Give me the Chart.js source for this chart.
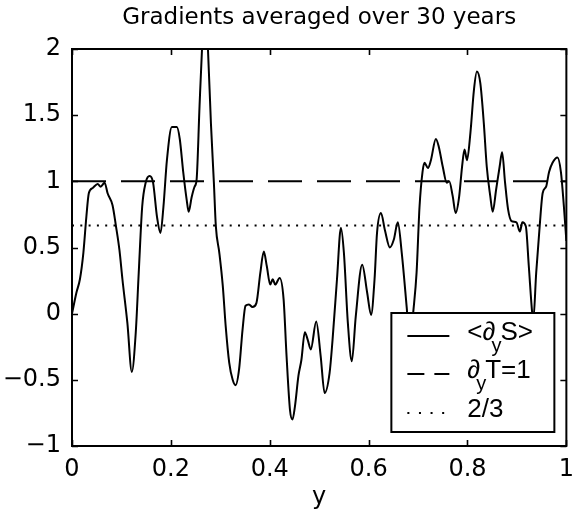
<!DOCTYPE html>
<html>
<head>
<meta charset="utf-8">
<script src="https://cdn.jsdelivr.net/npm/chart.js@4.4.0/dist/chart.umd.min.js"></script>
<style>
  html, body { margin: 0; padding: 0; background: #fff; }
  #wrap { width: 583px; height: 520px; }
</style>
</head>
<body>
<div id="wrap"><canvas id="c" width="583" height="520"></canvas></div>
<script>
// Position across the basin (non-dimensional y)
const yPos = [
  0.000, 0.009, 0.016, 0.023, 0.029, 0.034, 0.042, 0.052, 0.058, 0.066,
  0.072, 0.082, 0.089, 0.096, 0.102, 0.112, 0.121, 0.129, 0.135, 0.142,
  0.149, 0.157, 0.164, 0.172, 0.179, 0.185, 0.192, 0.202, 0.212, 0.218,
  0.225, 0.232, 0.236, 0.242, 0.248, 0.252, 0.258, 0.263, 0.269, 0.275,
  0.281, 0.287, 0.291, 0.298, 0.305, 0.311, 0.318, 0.325, 0.331, 0.338,
  0.345, 0.351, 0.358, 0.365, 0.373, 0.381, 0.388, 0.394, 0.401, 0.406,
  0.411, 0.420, 0.428, 0.434, 0.441, 0.446, 0.451, 0.458, 0.464, 0.471,
  0.477, 0.483, 0.494, 0.503, 0.511, 0.521, 0.527, 0.536, 0.544, 0.550,
  0.558, 0.566, 0.574, 0.587, 0.597, 0.605, 0.612, 0.617, 0.625, 0.633,
  0.643, 0.651, 0.659, 0.667, 0.677, 0.684, 0.690, 0.697, 0.703, 0.709,
  0.713, 0.720, 0.726, 0.736, 0.742, 0.750, 0.758, 0.763, 0.770, 0.776,
  0.783, 0.789, 0.794, 0.799, 0.806, 0.813, 0.819, 0.826, 0.833, 0.839,
  0.846, 0.851, 0.858, 0.865, 0.870, 0.876, 0.882, 0.889, 0.899, 0.906,
  0.911, 0.918, 0.924, 0.931, 0.933, 0.939, 0.946, 0.952, 0.959, 0.965,
  0.972, 0.982, 0.989, 0.995, 1.000
];

// Salinity gradient <d_y S>, averaged over 30 years
const meanSGrad = [
  0.00, 0.16, 0.26, 0.46, 0.73, 0.91, 0.95, 0.98, 0.96, 0.99,
  0.91, 0.82, 0.66, 0.48, 0.26, -0.07, -0.44, -0.14, 0.31, 0.81,
  0.99, 1.04, 0.99, 0.73, 0.61, 0.81, 1.16, 1.41, 1.41, 1.32,
  1.07, 0.86, 0.77, 0.88, 0.96, 1.01, 1.57, 2.00, 2.35, 2.00,
  1.44, 0.99, 0.66, 0.46, 0.21, -0.10, -0.37, -0.50, -0.54, -0.42,
  -0.12, 0.06, 0.07, 0.05, 0.08, 0.31, 0.47, 0.36, 0.22, 0.26,
  0.22, 0.27, 0.11, -0.32, -0.73, -0.80, -0.70, -0.47, -0.35, -0.14,
  -0.20, -0.27, -0.06, -0.32, -0.60, -0.45, -0.20, 0.26, 0.65, 0.46,
  -0.07, -0.36, -0.02, 0.37, 0.16, -0.01, 0.26, 0.61, 0.76, 0.63,
  0.50, 0.56, 0.69, 0.46, 0.05, -0.25, 0.00, 0.31, 0.81, 1.07,
  1.14, 1.10, 1.16, 1.32, 1.26, 1.11, 0.99, 1.00, 0.89, 0.76,
  0.88, 1.11, 1.24, 1.16, 1.37, 1.69, 1.83, 1.74, 1.44, 1.11,
  0.89, 0.77, 0.94, 1.11, 1.22, 0.99, 0.79, 0.70, 0.69, 0.62,
  0.69, 0.66, 0.36, 0.00, -0.05, 0.31, 0.66, 0.91, 0.96, 1.07,
  1.14, 1.18, 1.07, 0.81, 0.55
];

// Reference levels
const tempGradLevel = 1;
const twoThirdsLevel = 2 / 3;

// Axis ticks
const xTickValues = [0, 0.2, 0.4, 0.6, 0.8, 1];
const xTickLabels = ['0', '0.2', '0.4', '0.6', '0.8', '1'];
const yTickValues = [-1, -0.5, 0, 0.5, 1, 1.5, 2];
const yTickLabels = ['\u22121', '\u22120.5', '0', '0.5', '1', '1.5', '2'];

// Legend entries as text runs (sub = subscript)
const legendEntries = [
  [{ t: '<\u2202' }, { t: 'y', sub: true }, { t: 'S>' }],
  [{ t: '\u2202' }, { t: 'y', sub: true }, { t: 'T=1' }],
  [{ t: '2/3' }]
];

const FONT = 'DejaVu Sans';
const BLACK = '#000';

const frameAndTicks = {
  id: 'frameAndTicks',
  afterDatasetsDraw(chart) {
    const { ctx, chartArea: a, scales: { x, y } } = chart;
    const len = 6;
    ctx.save();
    ctx.strokeStyle = BLACK;
    ctx.lineWidth = 1.6;
    ctx.beginPath();
    xTickValues.forEach(v => {
      const px = Math.round(x.getPixelForValue(v)) + 0.5;
      ctx.moveTo(px, a.bottom); ctx.lineTo(px, a.bottom - len);
      ctx.moveTo(px, a.top); ctx.lineTo(px, a.top + len);
    });
    yTickValues.forEach(v => {
      const py = Math.round(y.getPixelForValue(v)) + 0.5;
      ctx.moveTo(a.left, py); ctx.lineTo(a.left + len, py);
      ctx.moveTo(a.right, py); ctx.lineTo(a.right - len, py);
    });
    ctx.stroke();
    ctx.lineWidth = 2;
    ctx.strokeRect(a.left, a.top, a.right - a.left, a.bottom - a.top);
    ctx.restore();
  }
};

const boxLegend = {
  id: 'boxLegend',
  afterDraw(chart) {
    const { ctx, chartArea: a } = chart;
    const w = 163, h = 119;
    const bx = a.right - 12 - w, by = a.bottom - 14 - h;
    ctx.save();
    ctx.fillStyle = '#fff';
    ctx.fillRect(bx, by, w, h);
    ctx.strokeStyle = BLACK;
    ctx.lineWidth = 2;
    ctx.strokeRect(bx, by, w, h);

    const rowY = [by + 23, by + 61, by + 100];
    const sampleDash = [[], [17, 10], [2, 9.6]];
    const ds = chart.data.datasets;
    ds.forEach((d, i) => {
      ctx.beginPath();
      ctx.setLineDash(sampleDash[i]);
      ctx.lineWidth = d.borderWidth;
      ctx.strokeStyle = d.borderColor;
      ctx.moveTo(bx + 16, rowY[i]);
      ctx.lineTo(bx + 58, rowY[i]);
      ctx.stroke();
    });
    ctx.setLineDash([]);

    ctx.fillStyle = BLACK;
    ctx.textBaseline = 'alphabetic';
    ctx.textAlign = 'left';
    legendEntries.forEach((runs, i) => {
      let tx = bx + 76;
      const base = rowY[i] + 4;
      runs.forEach(r => {
        if (r.sub) {
          ctx.font = '20px "Liberation Sans"';
          ctx.fillText(r.t, tx - 4, base + 12);
          tx += ctx.measureText(r.t).width - 5;
        } else {
          ctx.font = '26px "Liberation Sans"';
          ctx.fillText(r.t, tx, base);
          tx += ctx.measureText(r.t).width;
        }
      });
    });
    ctx.restore();
  }
};

new Chart(document.getElementById('c'), {
  type: 'line',
  data: {
    datasets: [
      {
        label: '<\u2202yS>',
        data: yPos.map((v, i) => ({ x: v, y: meanSGrad[i] })),
        borderColor: BLACK,
        borderWidth: 2,
        pointRadius: 0,
        cubicInterpolationMode: 'monotone',
        fill: false
      },
      {
        label: '\u2202yT=1',
        data: [{ x: 0, y: tempGradLevel }, { x: 1, y: tempGradLevel }],
        borderColor: BLACK,
        borderWidth: 2,
        borderDash: [34, 15],
        pointRadius: 0,
        fill: false
      },
      {
        label: '2/3',
        data: [{ x: 0, y: twoThirdsLevel }, { x: 1, y: twoThirdsLevel }],
        borderColor: BLACK,
        borderWidth: 2,
        borderDash: [2, 6.3],
        pointRadius: 0,
        fill: false
      }
    ]
  },
  options: {
    responsive: false,
    animation: false,
    devicePixelRatio: 1,
    layout: { padding: { left: 0, right: 9, top: 0, bottom: 0 } },
    plugins: {
      legend: { display: false },
      tooltip: { enabled: false },
      title: {
        display: true,
        fullSize: false,
        text: 'Gradients averaged over 30 years',
        color: BLACK,
        font: { family: FONT, size: 23, weight: 'normal', lineHeight: 1.2 },
        padding: { top: 4, bottom: 17.4 }
      }
    },
    scales: {
      x: {
        type: 'linear',
        min: 0,
        max: 1,
        afterBuildTicks: s => { s.ticks = xTickValues.map(v => ({ value: v })); },
        afterFit: s => { s.height = 74; },
        ticks: {
          callback: v => xTickLabels[xTickValues.indexOf(v)],
          color: BLACK,
          font: { family: FONT, size: 24 },
          padding: 9,
          maxRotation: 0,
          autoSkip: false
        },
        grid: { display: false, drawTicks: false },
        border: { display: false },
        title: {
          display: true,
          text: 'y',
          color: BLACK,
          font: { family: FONT, size: 24 },
          padding: { top: 0, bottom: 8 }
        }
      },
      y: {
        type: 'linear',
        min: -1,
        max: 2,
        afterBuildTicks: s => { s.ticks = yTickValues.map(v => ({ value: v })); },
        afterFit: s => { s.width = 72; },
        ticks: {
          callback: v => yTickLabels[yTickValues.indexOf(v)],
          color: BLACK,
          font: { family: FONT, size: 24 },
          padding: 11,
          autoSkip: false
        },
        grid: { display: false, drawTicks: false },
        border: { display: false }
      }
    }
  },
  plugins: [frameAndTicks, boxLegend]
});
</script>
</body>
</html>
